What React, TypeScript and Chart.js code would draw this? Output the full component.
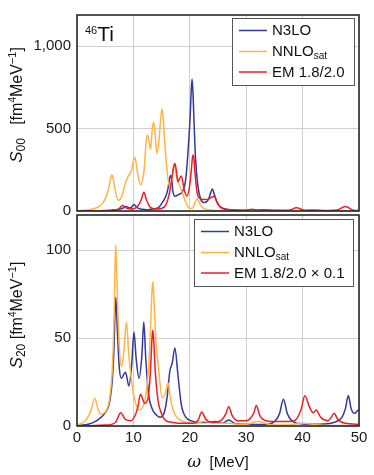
import React, { useEffect, useRef } from "react";
import { Chart, registerables } from "chart.js";

Chart.register(...registerables);

const FONT = "'Liberation Sans', Arial, sans-serif";

const X_TICKS = [0, 10, 20, 30, 40, 50];
const X_MIN = 0;
const X_MAX = 50;
const TOP_Y_TICKS = [0, 500, 1000];
const TOP_Y_MAX = 1190;
const BOT_Y_TICKS = [0, 50, 100];
const BOT_Y_MAX = 120;

const COLOR_N3LO = "#333a9c";
const COLOR_NNLO = "#ffb444";
const COLOR_EM = "#ec1e27";

// ---- Top panel (S00) ----
const TOP_N3LO_X = [0, 4, 6, 7.5, 8.2, 8.7, 9.3, 9.7, 10.1, 10.6, 11.5, 12.5, 13.5, 14.5, 15.2, 15.7, 16.1, 16.4, 16.6, 16.8, 17.0, 17.4, 18.0, 18.7, 19.3, 19.8, 20.1, 20.25, 20.4, 20.55, 20.7, 21.0, 21.4, 21.9, 22.6, 23.3, 23.7, 24.0, 24.4, 25.0, 26.0, 28, 32, 40, 50];
const TOP_N3LO_Y = [0, 2, 5, 10, 18, 28, 18, 25, 40, 22, 10, 8, 12, 22, 55, 85, 130, 195, 216, 190, 120, 89, 100, 118, 200, 420, 600, 730, 801, 730, 590, 330, 160, 75, 51, 70, 110, 133, 95, 40, 15, 6, 3, 2, 1];

const TOP_NNLO_X = [0, 2, 3.5, 4.5, 5.2, 5.7, 6.0, 6.2, 6.45, 6.7, 7.3, 7.9, 8.5, 9.05, 9.6, 10.0, 10.2, 10.45, 10.7, 11.25, 11.9, 12.25, 12.5, 12.75, 13.05, 13.35, 13.6, 13.85, 14.15, 14.6, 14.85, 15.1, 15.3, 15.5, 15.9, 16.4, 16.9, 17.25, 17.7, 18.5, 19.2, 19.8, 20.4, 20.9, 21.3, 21.8, 22.5, 24, 27, 32, 40, 50];
const TOP_NNLO_Y = [2, 8, 20, 45, 90, 150, 205, 220, 190, 140, 65, 85, 160, 210, 240, 305, 327, 300, 240, 160, 250, 420, 462, 430, 375, 500, 539, 470, 350, 450, 570, 620, 560, 450, 270, 150, 200, 285, 200, 130, 60, 20, 15, 50, 75, 40, 15, 5, 2, 1, 1, 0];

const TOP_EM_X = [0, 5, 6.5, 7.5, 8.05, 8.6, 9.3, 10.2, 11.0, 11.5, 11.85, 12.3, 13.0, 14.0, 15.0, 15.8, 16.4, 16.9, 17.15, 17.35, 17.6, 17.9, 18.5, 19.0, 19.5, 20.0, 20.3, 20.45, 20.6, 20.75, 20.9, 21.3, 21.8, 22.5, 23.3, 23.9, 24.3, 24.8, 25.5, 26.5, 28, 30, 31, 32, 33.5, 35, 37.5, 38.9, 40.3, 42, 44, 46, 47.6, 49, 50];
const TOP_EM_Y = [0, 1, 5, 15, 34, 20, 12, 15, 40, 80, 114, 70, 22, 12, 15, 40, 110, 220, 270, 289, 250, 178, 213, 130, 90, 160, 260, 320, 340, 310, 240, 110, 75, 70, 72, 85, 89, 55, 20, 10, 5, 4, 10, 6, 8, 4, 4, 19, 5, 6, 3, 6, 27, 5, 3];

// ---- Bottom panel (S20) ----
const BOT_N3LO_X = [0, 2, 3.5, 4.9, 5.8, 6.3, 6.6, 6.75, 6.87, 7.0, 7.15, 7.5, 7.88, 8.6, 9.2, 9.7, 10.1, 10.5, 11.0, 11.5, 11.84, 12.2, 12.7, 13.3, 13.8, 14.7, 15.5, 16.0, 16.45, 16.9, 17.35, 17.9, 18.5, 19.3, 20.3, 21.5, 23, 24.5, 25.8, 26.9, 28, 30, 33, 35.0, 35.9, 36.6, 37.3, 38.3, 40, 43, 45.5, 47.0, 47.6, 48.1, 48.6, 49.2, 49.9, 50];
const BOT_N3LO_Y = [0.3, 1, 3, 7.2, 14, 28, 48, 66, 73.2, 66, 55, 33, 27.2, 30.6, 22.8, 35, 53.4, 38, 27.2, 40, 59.2, 38, 17.7, 10, 7.2, 5, 8, 17, 31, 36, 44.3, 29, 12, 5, 2.9, 2, 2, 2.5, 1.5, 3.4, 1.5, 1, 0.8, 2.5, 7, 15.2, 7, 2.5, 1.2, 1, 2, 5, 10, 17.3, 10, 7.2, 9.1, 8.5];

const BOT_NNLO_X = [0, 1.5, 2.5, 3.15, 3.7, 4.2, 5.0, 5.8, 6.3, 6.6, 6.75, 6.87, 7.0, 7.2, 7.5, 7.9, 8.3, 8.76, 9.2, 9.94, 10.5, 11.1, 11.8, 12.4, 12.9, 13.3, 13.44, 13.58, 14.0, 14.4, 15.1, 15.7, 16.15, 16.6, 17.3, 18.5, 19.5, 21, 22.5, 24, 25.5, 27, 28.5, 30, 32, 34, 37, 40, 43, 46, 50];
const BOT_NNLO_Y = [0.5, 3, 9, 15.8, 10, 6.7, 8, 16, 35, 65, 92, 102.9, 92, 70, 45, 33.8, 42, 59, 40, 19.6, 12, 9.1, 12, 22, 45, 77, 82, 76, 48, 34.8, 16, 19, 24.5, 15, 7, 3, 2, 1.5, 2.5, 2, 1.5, 1.5, 1, 1, 2.5, 1, 0.5, 1.5, 0.5, 0.3, 0.2];

const BOT_EM_X = [0, 5, 6.8, 7.75, 8.5, 9.5, 10.3, 10.8, 11.25, 12.0, 12.6, 13.0, 13.3, 13.44, 13.58, 13.9, 14.4, 15.0, 15.6, 17, 19, 20.5, 21.5, 22.1, 22.8, 24, 25.5, 26.4, 26.9, 27.5, 28.5, 30, 31.3, 31.8, 32.4, 33.5, 36, 38.5, 39.7, 40.4, 41.2, 41.9, 42.4, 43.2, 44.5, 45.1, 45.6, 46.2, 47.5, 50];
const BOT_EM_Y = [0, 0.5, 2, 7.6, 4, 3, 6, 11, 18, 12.9, 16, 30, 50, 54.4, 50, 30, 13.9, 7, 3.4, 2, 1.5, 1.5, 3.5, 8, 4, 2, 3, 7, 11, 6, 3, 3, 7, 11.6, 6, 3, 2.5, 3, 9, 17.2, 11, 7.5, 9.1, 5, 3, 5, 7.2, 4, 1.5, 1];

const LABEL_N3LO = "N3LO";
const LABEL_NNLO_MAIN = "NNLO";
const LABEL_NNLO_SUB = "sat";
const LABEL_EM_TOP = "EM 1.8/2.0";
const LABEL_EM_BOT = "EM 1.8/2.0 \u00d7 0.1";

type Seg = { t: string; size: number; dy?: number; italic?: boolean; family?: string };

function segFont(s: Seg) {
  return `${s.italic ? "italic " : ""}${s.size}px ${s.family ?? FONT}`;
}
function richWidth(ctx: CanvasRenderingContext2D, segs: Seg[]) {
  let w = 0;
  for (const s of segs) {
    ctx.font = segFont(s);
    w += ctx.measureText(s.t).width;
  }
  return w;
}
function drawRich(ctx: CanvasRenderingContext2D, segs: Seg[], x: number, y: number) {
  let cx = x;
  for (const s of segs) {
    ctx.font = segFont(s);
    ctx.fillText(s.t, cx, y + (s.dy ?? 0));
    cx += ctx.measureText(s.t).width;
  }
  return cx;
}

function drawFrame(ctx: CanvasRenderingContext2D, a: any) {
  ctx.save();
  ctx.strokeStyle = "#2a2a2a";
  ctx.lineWidth = 1.6;
  ctx.strokeRect(a.left, a.top, a.right - a.left, a.bottom - a.top);
  ctx.restore();
}

type LegendItem = { color: string; segs: Seg[] };

function drawLegend(ctx: CanvasRenderingContext2D, right: number, top: number, items: LegendItem[]) {
  ctx.save();
  ctx.textBaseline = "middle";
  let tw = 0;
  for (const it of items) tw = Math.max(tw, richWidth(ctx, it.segs));
  const left = Math.round(right - (40 + tw + 9));
  const h = 67;
  ctx.fillStyle = "#ffffff";
  ctx.fillRect(left, top, right - left, h);
  ctx.strokeStyle = "#555555";
  ctx.lineWidth = 1;
  ctx.strokeRect(left + 0.5, top + 0.5, right - left, h);
  const rows = [12.5, 33.5, 54];
  items.forEach((it, i) => {
    const y = top + rows[i];
    ctx.strokeStyle = it.color;
    ctx.lineWidth = 1.5;
    ctx.beginPath();
    ctx.moveTo(left + 7, y);
    ctx.lineTo(left + 35, y);
    ctx.stroke();
    ctx.fillStyle = "#111111";
    drawRich(ctx, it.segs, left + 40, y + 0.5);
  });
  ctx.restore();
}

function drawYTitle(ctx: CanvasRenderingContext2D, cx: number, cy: number, segs: Seg[]) {
  ctx.save();
  ctx.translate(cx, cy);
  ctx.rotate(-Math.PI / 2);
  ctx.fillStyle = "#111111";
  ctx.textBaseline = "alphabetic";
  const w = richWidth(ctx, segs);
  drawRich(ctx, segs, -w / 2, 0);
  ctx.restore();
}

function yTitleSegs(sub: string, gap: string): Seg[] {
  return [
    { t: "S", size: 17, italic: true },
    { t: sub, size: 12, dy: 3 },
    { t: gap + "[fm", size: 16 },
    { t: "4", size: 10, dy: -6 },
    { t: "MeV", size: 16 },
    { t: "\u22121", size: 11, dy: -6 },
    { t: "]", size: 16 },
  ];
}

function pts(xs: number[], ys: number[]) {
  return xs.map((x, i) => ({ x, y: ys[i] }));
}

function ds(label: string, xs: number[], ys: number[], color: string, order: number) {
  return {
    label,
    data: pts(xs, ys),
    borderColor: color,
    backgroundColor: color,
    borderWidth: 1.5,
    pointRadius: 0,
    fill: false,
    cubicInterpolationMode: "monotone" as const,
    order,
  };
}

function makeOptions(yMax: number, yTicks: number[], top: boolean) {
  const gridColor = "#cfcfcf";
  return {
    responsive: false,
    animation: false as const,
    events: [] as any[],
    layout: { padding: { top: top ? 2 : 215, right: 15, left: 0, bottom: 0 } },
    plugins: { legend: { display: false }, tooltip: { enabled: false } },
    scales: {
      x: {
        type: "linear" as const,
        min: X_MIN,
        max: X_MAX,
        afterBuildTicks: (s: any) => {
          s.ticks = X_TICKS.map((v) => ({ value: v }));
        },
        afterFit: (s: any) => {
          s.height = top ? 475 - 211 : 475 - 426;
        },
        grid: { color: gridColor, lineWidth: 1, drawTicks: false },
        border: { display: false },
        ticks: {
          display: !top,
          padding: 3,
          color: "#1a1a1a",
          font: { family: FONT, size: 15 },
          maxRotation: 0,
          autoSkip: false,
        },
      },
      y: {
        type: "linear" as const,
        min: 0,
        max: yMax,
        afterBuildTicks: (s: any) => {
          s.ticks = yTicks.map((v) => ({ value: v }));
        },
        afterFit: (s: any) => {
          s.width = 77;
        },
        grid: { color: gridColor, lineWidth: 1, drawTicks: false },
        border: { display: false },
        ticks: {
          padding: 6,
          color: "#1a1a1a",
          font: { family: FONT, size: 15 },
          autoSkip: false,
        },
      },
    },
  };
}

export default function App() {
  const topRef = useRef<HTMLCanvasElement | null>(null);
  const botRef = useRef<HTMLCanvasElement | null>(null);

  useEffect(() => {
    const topDecor = {
      id: "topDecor",
      afterDatasetsDraw(chart: any) {
        const ctx = chart.ctx as CanvasRenderingContext2D;
        const a = chart.chartArea;
        drawFrame(ctx, a);
        drawLegend(ctx, a.right - 5, a.top + 3, [
          { color: COLOR_N3LO, segs: [{ t: LABEL_N3LO, size: 15 }] },
          { color: COLOR_NNLO, segs: [{ t: LABEL_NNLO_MAIN, size: 15 }, { t: LABEL_NNLO_SUB, size: 10, dy: 4 }] },
          { color: COLOR_EM, segs: [{ t: LABEL_EM_TOP, size: 15 }] },
        ]);
        ctx.save();
        ctx.fillStyle = "#111111";
        ctx.textBaseline = "alphabetic";
        drawRich(ctx, [{ t: "46", size: 11, dy: -7.5 }, { t: "Ti", size: 21 }], a.left + 8, a.top + 26.3);
        ctx.restore();
        drawYTitle(ctx, 22, 105, yTitleSegs("00", "   "));
      },
    };
    const botDecor = {
      id: "botDecor",
      afterDatasetsDraw(chart: any) {
        const ctx = chart.ctx as CanvasRenderingContext2D;
        const a = chart.chartArea;
        drawFrame(ctx, a);
        drawLegend(ctx, a.right - 6, a.top + 4, [
          { color: COLOR_N3LO, segs: [{ t: LABEL_N3LO, size: 15 }] },
          { color: COLOR_NNLO, segs: [{ t: LABEL_NNLO_MAIN, size: 15 }, { t: LABEL_NNLO_SUB, size: 10, dy: 4 }] },
          { color: COLOR_EM, segs: [{ t: LABEL_EM_BOT, size: 15 }] },
        ]);
        drawYTitle(ctx, 22, 315, yTitleSegs("20", " "));
        // x title
        ctx.save();
        ctx.fillStyle = "#111111";
        ctx.textBaseline = "alphabetic";
        const segs: Seg[] = [
          { t: "\u03c9", size: 17, italic: true, family: "'DejaVu Serif', serif" },
          { t: "  [MeV]", size: 15 },
        ];
        const w = richWidth(ctx, segs);
        drawRich(ctx, segs, (a.left + a.right) / 2 - w / 2, 467);
        ctx.restore();
      },
    };

    const topChart = new Chart(topRef.current as HTMLCanvasElement, {
      type: "line",
      data: {
        datasets: [
          ds(LABEL_N3LO, TOP_N3LO_X, TOP_N3LO_Y, COLOR_N3LO, 3),
          ds(LABEL_NNLO_MAIN + LABEL_NNLO_SUB, TOP_NNLO_X, TOP_NNLO_Y, COLOR_NNLO, 2),
          ds(LABEL_EM_TOP, TOP_EM_X, TOP_EM_Y, COLOR_EM, 1),
        ],
      },
      options: makeOptions(TOP_Y_MAX, TOP_Y_TICKS, true) as any,
      plugins: [topDecor],
    });
    const botChart = new Chart(botRef.current as HTMLCanvasElement, {
      type: "line",
      data: {
        datasets: [
          ds(LABEL_N3LO, BOT_N3LO_X, BOT_N3LO_Y, COLOR_N3LO, 3),
          ds(LABEL_NNLO_MAIN + LABEL_NNLO_SUB, BOT_NNLO_X, BOT_NNLO_Y, COLOR_NNLO, 2),
          ds(LABEL_EM_BOT, BOT_EM_X, BOT_EM_Y, COLOR_EM, 1),
        ],
      },
      options: makeOptions(BOT_Y_MAX, BOT_Y_TICKS, false) as any,
      plugins: [botDecor],
    });
    return () => {
      topChart.destroy();
      botChart.destroy();
    };
  }, []);

  const canvasStyle: React.CSSProperties = {
    position: "absolute",
    left: 0,
    top: 0,
    width: 374,
    height: 475,
    display: "block",
  };

  return (
    <div style={{ position: "fixed", left: 0, top: 0, width: 374, height: 475, background: "#ffffff" }}>
      <canvas ref={botRef} width={374} height={475} style={canvasStyle} />
      <canvas ref={topRef} width={374} height={475} style={canvasStyle} />
    </div>
  );
}
